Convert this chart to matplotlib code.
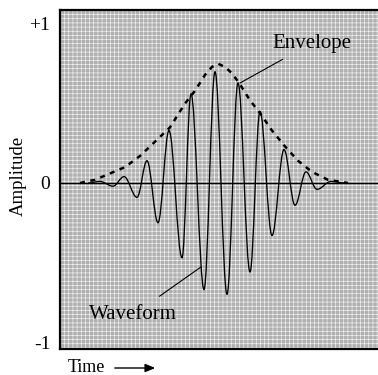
import numpy as np
import matplotlib
matplotlib.use("Agg")
import matplotlib.pyplot as plt
from matplotlib.path import Path
from matplotlib.patches import PathPatch, Rectangle, FancyArrowPatch

plt.rcParams["font.family"] = ["Liberation Serif", "DejaVu Serif"]
plt.rcParams["hatch.linewidth"] = 0.45

# waveform extrema (time, amplitude)
wave_t = [28, 40, 53, 64, 77, 87, 98, 109, 122, 131, 144, 155, 167, 178, 190, 200,
          212, 224, 235, 246, 257, 271, 285]
wave_a = [0.0, 0.01, -0.02, 0.04, -0.09, 0.14, -0.25, 0.33, -0.47, 0.56, -0.67, 0.70,
          -0.70, 0.63, -0.56, 0.45, -0.33, 0.21, -0.14, 0.07, -0.04, 0.01, 0.0]

# envelope
env_t = [20, 35, 50, 65, 80, 95, 110, 125, 135, 145, 152, 158, 165, 172, 180, 190,
         200, 212, 225, 238, 252, 268, 288]
env_a = [0.0, 0.02, 0.06, 0.10, 0.17, 0.26, 0.35, 0.50, 0.58, 0.68, 0.73, 0.75, 0.73,
         0.69, 0.62, 0.52, 0.44, 0.33, 0.23, 0.14, 0.07, 0.02, 0.0]

fig = plt.figure(figsize=(3.78, 3.75), dpi=100)
ax = fig.add_axes([60 / 378, 1 - 349 / 375, 1 - 60 / 378, (349 - 10) / 375])
ax.set_xlim(0, 318)
ax.set_ylim(-1.044, 1.088)

# stippled grey background
ax.set_facecolor("#b0b0b0")
ax.add_patch(Rectangle((0, 0), 1, 1, transform=ax.transAxes, facecolor="none",
                       edgecolor="#f2f2f2", hatch="++++", lw=0, zorder=0.5))

ax.axhline(0, color="black", lw=1.0, zorder=2)

# waveform: smooth bezier between successive extrema
k = 1 - 2 / np.pi
verts = [(wave_t[0], wave_a[0])]
codes = [Path.MOVETO]
for i in range(len(wave_t) - 1):
    t0, a0, t1, a1 = wave_t[i], wave_a[i], wave_t[i + 1], wave_a[i + 1]
    d = t1 - t0
    verts += [(t0 + k * d, a0), (t1 - k * d, a1), (t1, a1)]
    codes += [Path.CURVE4] * 3
ax.add_patch(PathPatch(Path(verts, codes), fill=False, color="black", lw=0.95, zorder=3))

ax.plot(env_t, env_a, color="black", lw=1.8, dashes=(2.0, 2.2), zorder=4)

ax.annotate("Envelope", xy=(180, 0.629), xytext=(252, 0.88), fontsize=15,
            ha="center", va="center",
            arrowprops=dict(arrowstyle="-", color="black", lw=0.8, shrinkA=6, shrinkB=0))
ax.annotate("Waveform", xy=(141, -0.528), xytext=(73, -0.83), fontsize=15,
            ha="center", va="center",
            arrowprops=dict(arrowstyle="-", color="black", lw=0.8, shrinkA=8, shrinkB=0))

ax.set_xticks([])
ax.set_yticks([-1, 0, 1])
ax.set_yticklabels(["-1", "0", "+1"], fontsize=14)
ax.tick_params(axis="y", length=0, pad=7)
for s in ["left", "top", "bottom"]:
    ax.spines[s].set_linewidth(1.6)
ax.spines["right"].set_visible(False)

fig.text(18 / 378, 1 - 176 / 375, "Amplitude", rotation=90, fontsize=13.5,
         ha="center", va="center")
fig.text(68 / 378, 1 - 367 / 375, "Time", fontsize=13, ha="left", va="center")
fig.add_artist(FancyArrowPatch(
    (112 / 378, 1 - 368 / 375), (158 / 378, 1 - 368 / 375), transform=fig.transFigure,
    arrowstyle="-|>,head_length=6,head_width=2.5", color="black", lw=1.0))

fig.savefig("out.png", dpi=100)
